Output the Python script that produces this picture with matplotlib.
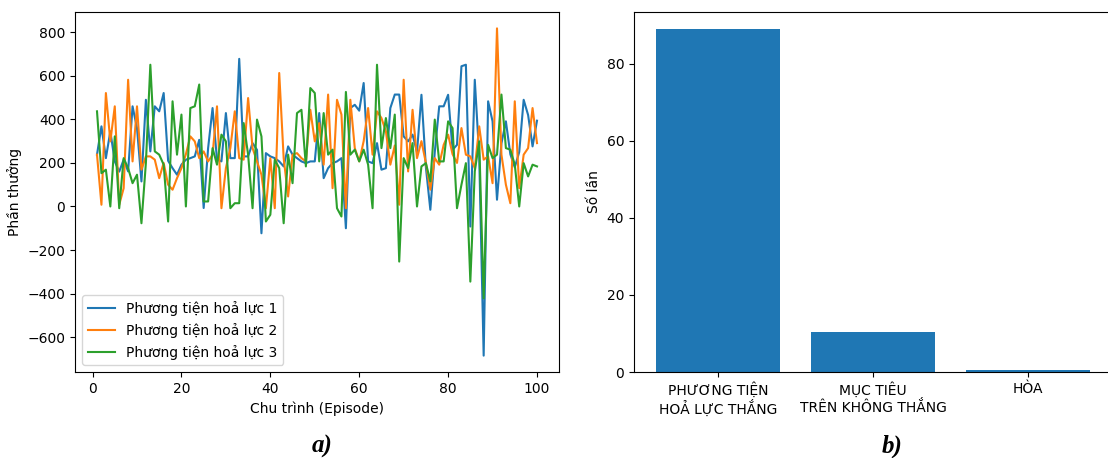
import matplotlib
matplotlib.use("Agg")
import matplotlib.pyplot as plt
import numpy as np

episodes = list(range(1, 101))

reward_1 = [238, 368, 222, 345, 207, 160, 215, 161, 460, 360,
            115, 490, 253, 460, 437, 521, 210, 176, 146, 192,
            215, 222, 230, 306, -7, 268, 452, 215, 207, 429,
            222, 222, 678, 230, 230, 291, 260, -123, 245, 230,
            222, 207, 184, 276, 238, 222, 207, 199, 207, 207,
            429, 130, 176, 199, 207, 222, -100, 452, 467, 440,
            567, 207, 199, 291, 169, 176, 452, 514, 514, 322,
            299, 330, 250, 513, 180, -15, 250, 460, 460, 513,
            260, 283, 644, 651, -92, 582, 230, -685, 483, 391,
            31, 290, 391, 240, 180, 250, 490, 420, 276, 394]

reward_2 = [238, 8, 521, 299, 460, 8, 84, 582, 207, 460,
            169, 230, 230, 215, 130, 200, 100, 77, 130, 176,
            240, 322, 299, 222, 253, 207, 238, 460, -8, 176,
            268, 437, 222, 215, 498, 268, 207, 146, -8, 222,
            -8, 613, 222, 46, 238, 245, 222, 207, 444, 299,
            383, 192, 514, 84, 490, 422, -8, 490, 268, 207,
            300, 452, 238, 437, 406, 345, 192, 280, 8, 582,
            161, 444, 222, 300, 200, 77, 222, 192, 283, 330,
            240, 200, 360, 238, 230, 176, 368, 215, 230, 107,
            818, 238, 100, 15, 483, 84, 238, 268, 452, 291]

reward_3 = [437, 153, 169, 0, 322, -8, 222, 176, 107, 146,
            -77, 200, 651, 253, 238, 192, -69, 483, 238, 422,
            0, 452, 460, 560, 23, 23, 268, 192, 330, 299,
            -8, 15, 15, 383, 238, -8, 399, 322, -69, -38,
            215, 176, -77, 238, 107, 429, 444, 184, 544, 521,
            207, 429, 238, 261, -8, -46, 526, 238, 261, 207,
            261, 192, -8, 651, 268, 406, 268, 422, -253, 222,
            176, 291, 0, 184, 199, 115, 399, 207, 207, 391,
            360, -8, 100, 199, -345, 161, 299, -422, 283, 222,
            238, 514, 268, 261, 192, 0, 199, 138, 192, 184]

series_labels = ["Phương tiện hoả lực 1", "Phương tiện hoả lực 2", "Phương tiện hoả lực 3"]

outcome_labels = ["PHƯƠNG TIỆN\nHOẢ LỰC THẮNG", "MỤC TIÊU\nTRÊN KHÔNG THẮNG", "HÒA"]
outcome_counts = [89, 10.5, 0.5]

W, H = 1108, 458
fig = plt.figure(figsize=(W / 100, H / 100), dpi=100)

ax1 = fig.add_axes([75 / W, 86 / H, 484 / W, 360 / H])
for vals, lab in zip([reward_1, reward_2, reward_3], series_labels):
    ax1.plot(episodes, vals, label=lab, linewidth=1.5)
ax1.set_xlabel("Chu trình (Episode)")
ax1.set_ylabel("Phần thưởng")
ax1.set_xticks([0, 20, 40, 60, 80, 100])
ax1.legend(loc="lower left")

ax2 = fig.add_axes([634 / W, 86 / H, 478 / W, 360 / H])
ax2.bar(range(len(outcome_labels)), outcome_counts, color="#1f77b4", width=0.8)
ax2.set_xticks(range(len(outcome_labels)))
ax2.set_xticklabels(outcome_labels)
ax2.set_ylabel("Số lần")
ax2.spines["right"].set_visible(False)

fig.text(322 / W, 1 - 446 / H, "a)", ha="center", va="center",
         fontsize=18, fontweight="bold", fontstyle="italic", family="Liberation Serif")
fig.text(892 / W, 1 - 446 / H, "b)", ha="center", va="center",
         fontsize=18, fontweight="bold", fontstyle="italic", family="Liberation Serif")

fig.savefig("out.png", dpi=100)
